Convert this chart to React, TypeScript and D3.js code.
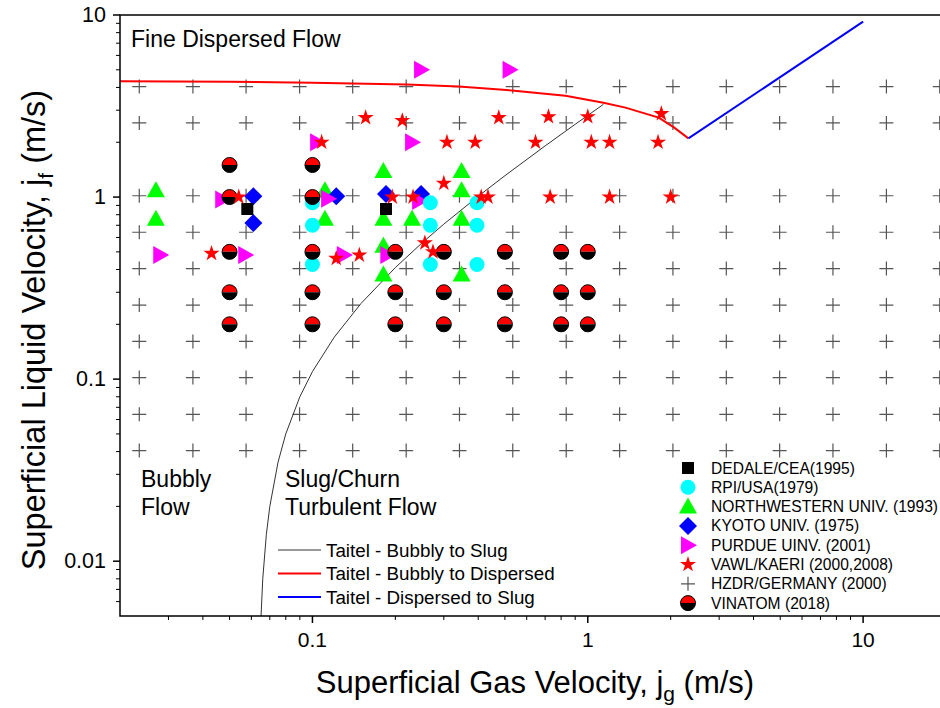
import * as d3 from "d3";

const FONT = "'Liberation Sans', Arial, sans-serif";

// [jg, jf] pairs
const DEDALE: [number, number][] = [
  [0.058, 0.86],
  [0.185, 0.86],
];
const RPI: [number, number][] = [
  [0.1, 0.93], [0.1, 0.7], [0.1, 0.426],
  [0.268, 0.93], [0.268, 0.7], [0.268, 0.426],
  [0.396, 0.93], [0.396, 0.7], [0.396, 0.426],
];
const NORTHWESTERN: [number, number][] = [
  [0.027, 1.09], [0.027, 0.76],
  [0.111, 1.09], [0.111, 0.76],
  [0.181, 1.39], [0.181, 0.76], [0.181, 0.54], [0.181, 0.375],
  [0.23, 0.76],
  [0.348, 1.39], [0.348, 1.09], [0.348, 0.76], [0.348, 0.375],
];
const KYOTO: [number, number][] = [
  [0.061, 1.01], [0.061, 0.72],
  [0.122, 1.01], [0.185, 1.04], [0.248, 1.04],
];
const PURDUE: [number, number][] = [
  [0.047, 0.97], [0.028, 0.48], [0.057, 0.48],
  [0.104, 2.0], [0.114, 0.98], [0.13, 0.48], [0.187, 0.48],
  [0.23, 2.0], [0.244, 0.95], [0.248, 5.0], [0.52, 5.0],
];
const VAWL: [number, number][] = [
  [0.054, 1.0], [0.043, 0.49], [0.108, 2.0], [0.122, 0.46], [0.148, 0.48],
  [0.195, 1.0], [0.232, 1.0], [0.3, 1.19], [0.256, 0.56], [0.274, 0.5],
  [0.41, 1.0], [0.434, 1.0], [0.156, 2.73], [0.212, 2.63], [0.308, 2.0],
  [0.39, 2.0], [0.475, 2.73], [0.72, 2.76], [1.0, 2.76], [0.646, 2.0],
  [1.03, 2.0], [1.2, 2.0], [1.8, 2.0], [1.85, 2.87], [0.73, 1.0],
  [1.2, 1.0], [2.0, 1.0],
];
const HZDR_JG = [
  0.0235, 0.0368, 0.0574, 0.0898, 0.14, 0.219, 0.342, 0.534, 0.835, 1.305,
  2.038, 3.185, 4.975, 7.77, 12.15, 18.98,
];
const HZDR_JF = [0.0405, 0.0641, 0.102, 0.161, 0.255, 0.405, 0.641, 1.017, 2.554, 4.047];
const VINATOM_JG = [0.05, 0.1, 0.2, 0.3, 0.5, 0.8, 1.0];
const VINATOM_JF: number[][] = [
  [1.5, 1.0, 0.5, 0.3, 0.2],
  [1.5, 1.0, 0.5, 0.3, 0.2],
  [0.5, 0.3, 0.2],
  [0.5, 0.3, 0.2],
  [0.5, 0.3, 0.2],
  [0.5, 0.3, 0.2],
  [0.5, 0.3, 0.2],
];

// Taitel transition lines
const BUBBLY_SLUG: [number, number][] = [
  [0.0648, 0.0044], [0.066, 0.008], [0.068, 0.014], [0.07, 0.02], [0.075, 0.035],
  [0.08, 0.05], [0.09, 0.08], [0.1, 0.11], [0.12, 0.17], [0.15, 0.26], [0.2, 0.41],
  [0.25, 0.56], [0.3, 0.71], [0.4, 1.01], [0.5, 1.31], [0.7, 1.91], [0.9, 2.51],
  [1.14, 3.23],
];
const BUBBLY_DISPERSED: [number, number][] = [
  [0.02, 4.33], [0.05, 4.3], [0.1, 4.25], [0.22, 4.15], [0.34, 4.05], [0.53, 3.85],
  [0.83, 3.6], [1.14, 3.3], [1.37, 3.1], [1.81, 2.73], [2.05, 2.42], [2.32, 2.1],
];
const DISPERSED_SLUG: [number, number][] = [
  [2.32, 2.1],
  [10, 9.2],
];

const LEGEND_LABELS = [
  "DEDALE/CEA(1995)",
  "RPI/USA(1979)",
  "NORTHWESTERN UNIV. (1993)",
  "KYOTO UNIV. (1975)",
  "PURDUE UINV. (2001)",
  "VAWL/KAERI (2000,2008)",
  "HZDR/GERMANY (2000)",
  "VINATOM (2018)",
];
const LINE_LABELS = [
  "Taitel - Bubbly to Slug",
  "Taitel - Bubbly to Dispersed",
  "Taitel - Dispersed to Slug",
];
const LINE_COLORS = ["#333333", "#ff0000", "#0000ff"];
const X_TICKS = [0.1, 1, 10];
const Y_TICKS = [0.01, 0.1, 1, 10];

const W = 940;
const H = 708;
const L = 120;
const T = 15;
const R = 946;
const B = 616;

const x = d3.scaleLog().domain([0.02, 20]).range([L, R]);
const y = d3.scaleLog().domain([0.005, 10]).range([B, T]);

const starPath = d3.symbol(d3.symbolStar, 80)()!;
const triUp = "M0,-9L9,7L-9,7Z";
const triRight = "M-7,-9L9,0L-7,9Z";
const diamond = "M0,-9L9,0L0,9L-9,0Z";
const cross = "M-7,0H7M0,-7V7";

function Vinatom({ cx, cy }: { cx: number; cy: number }) {
  const r = 7.5;
  return (
    <g transform={`translate(${cx},${cy})`}>
      <path d={`M${-r},0A${r},${r} 0 0 1 ${r},0Z`} fill="#ff0000" />
      <path d={`M${-r},0A${r},${r} 0 0 0 ${r},0Z`} fill="#000" />
      <circle r={r} fill="none" stroke="#000" strokeWidth={1} />
    </g>
  );
}

function Marker({ kind, cx, cy }: { kind: number; cx: number; cy: number }) {
  const t = `translate(${cx},${cy})`;
  switch (kind) {
    case 0:
      return <rect x={cx - 6} y={cy - 6} width={12} height={12} fill="#000" />;
    case 1:
      return <circle cx={cx} cy={cy} r={7.5} fill="#00ffff" />;
    case 2:
      return <path d={triUp} transform={t} fill="#00ff00" />;
    case 3:
      return <path d={diamond} transform={t} fill="#0000ff" />;
    case 4:
      return <path d={triRight} transform={t} fill="#ff00ff" />;
    case 5:
      return <path d={starPath} transform={t} fill="#ff0000" />;
    case 6:
      return <path d={cross} transform={t} stroke="#555" strokeWidth={1.2} fill="none" />;
    default:
      return <Vinatom cx={cx} cy={cy} />;
  }
}

export default function App() {
  const line = d3
    .line<[number, number]>()
    .x((d) => x(d[0]))
    .y((d) => y(d[1]));

  const minorX: number[] = [];
  for (const dec of [0.01, 0.1, 1, 10]) {
    for (let k = 2; k <= 9; k++) {
      const v = dec * k;
      if (v > 0.02 && v < 20) minorX.push(v);
    }
  }
  const minorY: number[] = [];
  for (const dec of [0.001, 0.01, 0.1, 1]) {
    for (let k = 2; k <= 9; k++) {
      const v = dec * k;
      if (v > 0.005 && v < 10) minorY.push(v);
    }
  }

  const grid: [number, number][] = [];
  HZDR_JG.forEach((g) => HZDR_JF.forEach((f) => grid.push([g, f])));
  const vina: [number, number][] = [];
  VINATOM_JG.forEach((g, i) => VINATOM_JF[i].forEach((f) => vina.push([g, f])));

  const layers: { kind: number; pts: [number, number][] }[] = [
    { kind: 2, pts: NORTHWESTERN },
    { kind: 3, pts: KYOTO },
    { kind: 4, pts: PURDUE },
    { kind: 1, pts: RPI },
    { kind: 0, pts: DEDALE },
    { kind: 7, pts: vina },
    { kind: 5, pts: VAWL },
  ];

  return (
    <svg
      width={W}
      height={H}
      style={{ position: "absolute", left: 0, top: 0, background: "#fff" }}
      fontFamily={FONT}
    >
      <defs>
        <clipPath id="plot">
          <rect x={L} y={T} width={R - L} height={B - T} />
        </clipPath>
      </defs>

      <g clipPath="url(#plot)">
        {grid.map((d, i) => (
          <Marker key={`h${i}`} kind={6} cx={x(d[0])} cy={y(d[1])} />
        ))}
        <path d={line(BUBBLY_SLUG)!} fill="none" stroke={LINE_COLORS[0]} strokeWidth={1} />
        <path d={line(BUBBLY_DISPERSED)!} fill="none" stroke={LINE_COLORS[1]} strokeWidth={2} />
        <path d={line(DISPERSED_SLUG)!} fill="none" stroke={LINE_COLORS[2]} strokeWidth={2} />
        {layers.map((layer) =>
          layer.pts.map((d, i) => (
            <Marker key={`${layer.kind}-${i}`} kind={layer.kind} cx={x(d[0])} cy={y(d[1])} />
          ))
        )}
      </g>

      {/* frame */}
      <path d={`M${W},${T}H${L}V${B}H${W}`} fill="none" stroke="#000" strokeWidth={1.5} />

      {/* x ticks */}
      {X_TICKS.map((v) => (
        <g key={`xt${v}`}>
          <line x1={x(v)} x2={x(v)} y1={B} y2={B + 7} stroke="#000" strokeWidth={1.5} />
          <text x={x(v)} y={B + 31} textAnchor="middle" fontSize={21}>
            {v}
          </text>
        </g>
      ))}
      {minorX.map((v) => (
        <line key={`xm${v}`} x1={x(v)} x2={x(v)} y1={B} y2={B + 4} stroke="#000" strokeWidth={1} />
      ))}

      {/* y ticks */}
      {Y_TICKS.map((v) => (
        <g key={`yt${v}`}>
          <line x1={L - 7} x2={L} y1={y(v)} y2={y(v)} stroke="#000" strokeWidth={1.5} />
          <text x={L - 14} y={y(v) + 7} textAnchor="end" fontSize={21.5}>
            {v}
          </text>
        </g>
      ))}
      {minorY.map((v) => (
        <line key={`ym${v}`} x1={L - 4} x2={L} y1={y(v)} y2={y(v)} stroke="#000" strokeWidth={1} />
      ))}

      {/* axis titles */}
      <text x={535} y={693} textAnchor="middle" fontSize={31}>
        Superficial Gas Velocity, j
        <tspan fontSize={21} dy={8}>g</tspan>
        <tspan dy={-8}> (m/s)</tspan>
      </text>
      <text
        transform={`translate(45,330) rotate(-90)`}
        textAnchor="middle"
        fontSize={32.5}
      >
        Superficial Liquid Velocity, j
        <tspan fontSize={21} dy={8}>f</tspan>
        <tspan dy={-8}> (m/s)</tspan>
      </text>

      {/* regime labels */}
      <g fontSize={23}>
        <text x={131} y={47}>Fine Dispersed Flow</text>
        <text x={141} y={487}>Bubbly</text>
        <text x={141} y={515}>Flow</text>
        <text x={285} y={487}>Slug/Churn</text>
        <text x={285} y={515}>Turbulent Flow</text>
      </g>

      {/* line legend */}
      {LINE_LABELS.map((s, i) => (
        <g key={s}>
          <line
            x1={278}
            x2={321}
            y1={550 + i * 23.5}
            y2={550 + i * 23.5}
            stroke={LINE_COLORS[i]}
            strokeWidth={i === 0 ? 1 : 2}
          />
          <text x={326} y={550 + i * 23.5 + 6.5} fontSize={18.8}>
            {s}
          </text>
        </g>
      ))}

      {/* marker legend */}
      {LEGEND_LABELS.map((s, i) => {
        const cy = 468 + i * 19.3;
        return (
          <g key={s}>
            <Marker kind={i} cx={688} cy={cy} />
            <text x={711} y={cy + 5.5} fontSize={15.6}>
              {s}
            </text>
          </g>
        );
      })}
    </svg>
  );
}
